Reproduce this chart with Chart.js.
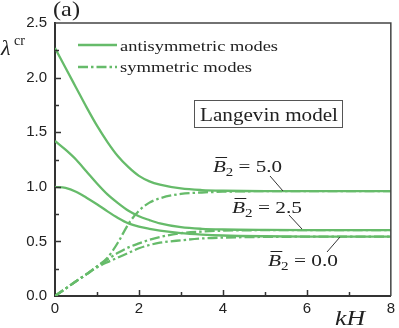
<!DOCTYPE html>
<html><head><meta charset="utf-8">
<script src="https://cdn.jsdelivr.net/npm/chart.js@4"></script>
<style>html,body{margin:0;padding:0;background:#fff}#wrap{width:399px;height:328px}</style>
</head><body><div id="wrap"><canvas id="c" width="399" height="328"></canvas></div>
<script>
// x values (kH)
const kH = [0,0.25,0.5,0.75,1,1.25,1.5,1.75,2,2.25,2.5,3,3.5,4,5,6,7,8];
// antisymmetric modes
const antiB5  = [2.27,2.09,1.91,1.73,1.56,1.41,1.28,1.18,1.10,1.05,1.02,0.985,0.97,0.964,0.96,0.96,0.96,0.96];
const antiB25 = [1.42,1.34,1.25,1.14,1.03,0.93,0.85,0.78,0.73,0.695,0.665,0.63,0.615,0.609,0.605,0.604,0.604,0.604];
const antiB0  = [1.0,0.99,0.955,0.90,0.84,0.775,0.715,0.665,0.635,0.615,0.598,0.575,0.562,0.554,0.547,0.544,0.543,0.543];
// symmetric modes
const symB5  = [0,0.067,0.135,0.2,0.27,0.35,0.49,0.66,0.78,0.855,0.895,0.935,0.948,0.955,0.96,0.96,0.96,0.96];
const symB25 = [0,0.067,0.135,0.2,0.27,0.335,0.395,0.445,0.482,0.515,0.54,0.575,0.59,0.598,0.603,0.604,0.604,0.604];
const symB0  = [0,0.067,0.134,0.198,0.262,0.31,0.352,0.395,0.437,0.467,0.488,0.51,0.527,0.535,0.541,0.543,0.543,0.543];
const legendLabels = ['antisymmetric modes','symmetric modes'];
const curveLabels = ['5.0','2.5','0.0'];

const GREEN = '#66bb6a';
const DASH = [10,3,2.5,3];
function ds(label, ys, dashed){
  return {label, data: kH.map((x,i)=>({x, y: ys[i]})), borderColor: GREEN, borderWidth: 2.3,
    borderDash: dashed ? DASH : [], pointRadius: 0, fill: false, showLine: true,
    cubicInterpolationMode: 'monotone'};
}
const SERIF = '"Liberation Serif", "DejaVu Serif", serif';
function drawFit(ctx, text, font, x, base, width){
  ctx.font = font;
  const w = ctx.measureText(text).width;
  ctx.save(); ctx.translate(x, base); ctx.scale(width / w, 1);
  ctx.fillText(text, 0, 0); ctx.restore();
}
function drawB(ctx, x, base, val, width){
  const parts = [
    {t:'B', f:'italic 17px ' + SERIF, dy:0},
    {t:'2', f:'12px ' + SERIF, dy:3.5},
    {t:' = ' + val, f:'17px ' + SERIF, dy:0}
  ];
  let tot = 0;
  parts.forEach(p => { ctx.font = p.f; p.w = ctx.measureText(p.t).width; tot += p.w; });
  ctx.save(); ctx.translate(x, base); ctx.scale(width / tot, 1);
  let cx = 0;
  parts.forEach((p, i) => {
    ctx.font = p.f; ctx.fillText(p.t, cx, p.dy);
    if (i === 0) {
      ctx.beginPath(); ctx.lineWidth = 1; ctx.strokeStyle = '#222';
      ctx.moveTo(cx + 2, -14.5); ctx.lineTo(cx + p.w + 1, -14.5); ctx.stroke();
    }
    cx += p.w;
  });
  ctx.restore();
}
const deco = {
  id: 'deco',
  afterDraw(chart){
    const {ctx, chartArea:{left, right, top, bottom}, scales:{x, y}} = chart;
    ctx.save();
    // frame top/right
    ctx.strokeStyle = '#444'; ctx.lineWidth = 1.5;
    ctx.beginPath(); ctx.moveTo(left, top); ctx.lineTo(right, top); ctx.lineTo(right, bottom); ctx.stroke();
    // inward ticks
    ctx.strokeStyle = '#333'; ctx.lineWidth = 1.5;
    for (let v = 0.25; v < 2.5; v += 0.25) {
      const py = Math.round(y.getPixelForValue(v)) + 0.5;
      const len = (Math.abs(v / 0.5 - Math.round(v / 0.5)) < 1e-6) ? 6 : 4;
      ctx.beginPath(); ctx.moveTo(left, py); ctx.lineTo(left + len, py); ctx.stroke();
    }
    for (let v = 1; v < 8; v += 1) {
      const px = Math.round(x.getPixelForValue(v)) + 0.5;
      const len = (v % 2 === 0) ? 6 : 4;
      ctx.beginPath(); ctx.moveTo(px, bottom); ctx.lineTo(px, bottom - len); ctx.stroke();
    }
    // legend
    ctx.strokeStyle = GREEN; ctx.lineWidth = 2.3;
    ctx.beginPath(); ctx.setLineDash([]); ctx.moveTo(78, 45); ctx.lineTo(117, 45); ctx.stroke();
    ctx.beginPath(); ctx.setLineDash(DASH); ctx.moveTo(78, 67); ctx.lineTo(117, 67); ctx.stroke();
    ctx.setLineDash([]);
    ctx.fillStyle = '#222'; ctx.textBaseline = 'alphabetic';
    drawFit(ctx, legendLabels[0], '15px ' + SERIF, 120, 51, 158);
    drawFit(ctx, legendLabels[1], '15px ' + SERIF, 120, 72, 132);
    // Langevin model box
    ctx.strokeStyle = '#555'; ctx.lineWidth = 1;
    ctx.strokeRect(194.5, 100.5, 148, 27);
    drawFit(ctx, 'Langevin model', '19px ' + SERIF, 200, 121, 138);
    // curve labels
    drawB(ctx, 213, 172, curveLabels[0], 69);
    drawB(ctx, 232, 213, curveLabels[1], 70);
    drawB(ctx, 268, 266, curveLabels[2], 70);
    ctx.strokeStyle = '#333'; ctx.lineWidth = 1;
    ctx.beginPath();
    ctx.moveTo(270, 176); ctx.lineTo(283, 191);
    ctx.moveTo(289, 215); ctx.lineTo(302, 229);
    ctx.moveTo(327, 252); ctx.lineTo(340, 237);
    ctx.stroke();
    // panel label, axis labels
    drawFit(ctx, '(a)', '21px ' + SERIF, 53, 16, 27);
    ctx.font = 'italic 22px ' + SERIF; ctx.fillText('λ', 1, 55);
    ctx.font = '14px ' + SERIF; ctx.fillText('cr', 14, 45);
    drawFit(ctx, 'kH', 'italic 20px ' + SERIF, 335, 325, 30);
    ctx.restore();
  }
};
new Chart(document.getElementById('c'), {
  type: 'scatter',
  data: { datasets: [
    ds('antisymmetric B2=5.0', antiB5, false),
    ds('antisymmetric B2=2.5', antiB25, false),
    ds('antisymmetric B2=0.0', antiB0, false),
    ds('symmetric B2=5.0', symB5, true),
    ds('symmetric B2=2.5', symB25, true),
    ds('symmetric B2=0.0', symB0, true)
  ]},
  options: {
    responsive: false, animation: false, devicePixelRatio: 1,
    layout: { padding: { top: 23, right: 0, left: 0, bottom: 0 } },
    plugins: { legend: { display: false }, tooltip: { enabled: false } },
    scales: {
      x: { type: 'linear', min: 0, max: 8,
        ticks: { stepSize: 2, maxRotation: 0, padding: 4, color: '#222',
          font: { family: '"Liberation Sans", Arial, sans-serif', size: 15 },
          callback: v => String(v) },
        grid: { drawOnChartArea: false, drawTicks: false },
        border: { color: '#333', width: 2 },
        afterFit(s){ s.height = 32; } },
      y: { type: 'linear', min: 0, max: 2.5,
        ticks: { stepSize: 0.5, padding: 8, color: '#222',
          font: { family: '"Liberation Sans", Arial, sans-serif', size: 15 },
          callback: v => Number(v).toFixed(1) },
        grid: { drawOnChartArea: false, drawTicks: false },
        border: { color: '#333', width: 2 },
        afterFit(s){ s.width = 55; } }
    }
  },
  plugins: [deco]
});
</script></body></html>
